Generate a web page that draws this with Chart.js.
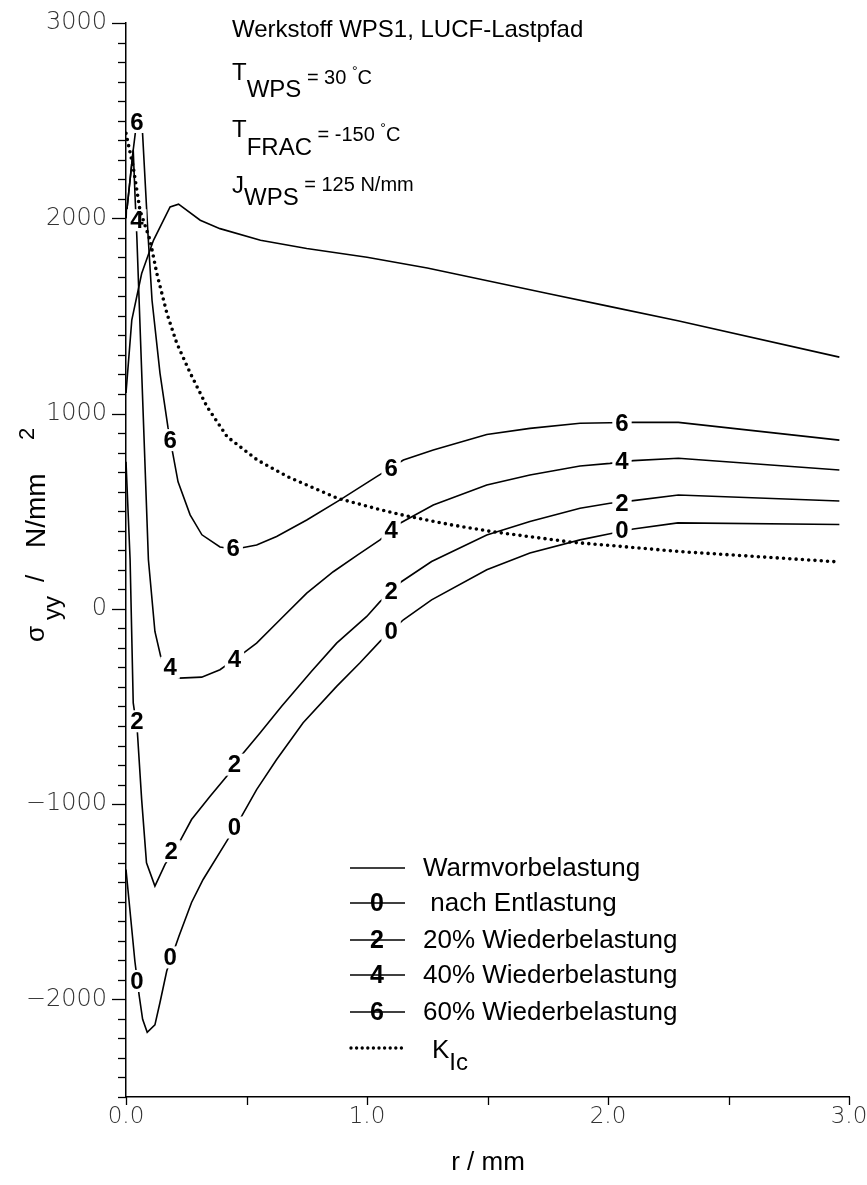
<!DOCTYPE html>
<html><head><meta charset="utf-8">
<script src="https://cdn.jsdelivr.net/npm/chart.js@4/dist/chart.umd.min.js"></script>
<style>html,body{margin:0;padding:0;background:#fff;}#wrap{width:867px;height:1185px;}</style>
</head><body><div id="wrap"><canvas id="c" width="867" height="1185"></canvas></div>
<script>
// ---- data (r in mm, sigma_yy in N/mm^2) ----
const warmR = [0, 0.024, 0.065, 0.114, 0.183, 0.218, 0.308, 0.39, 0.558, 0.75, 1.0, 1.25, 1.5, 1.75, 2.0, 2.29, 2.96];
const warmS = [1105, 1478, 1717, 1887, 2058, 2072, 1990, 1947, 1887, 1845, 1800, 1745, 1680, 1615, 1550, 1475, 1289];

const ent0R = [0, 0.037, 0.055, 0.069, 0.088, 0.12, 0.141, 0.169, 0.22, 0.272, 0.32, 0.418, 0.48, 0.542, 0.625, 0.735, 0.874, 0.971, 1.054, 1.151, 1.268, 1.497, 1.676, 1.884, 2.008, 2.105, 2.29, 2.96];
const ent0S = [-1335, -1806, -1983, -2102, -2169, -2131, -2016, -1855, -1676, -1504, -1386, -1190, -1062, -926, -772, -583, -397, -276, -167, -56, 46, 200, 286, 353, 384, 409, 440, 432];

const wb20R = [0, 0.017, 0.03, 0.047, 0.065, 0.085, 0.12, 0.162, 0.224, 0.272, 0.349, 0.418, 0.48, 0.556, 0.645, 0.77, 0.874, 0.999, 1.054, 1.144, 1.268, 1.497, 1.676, 1.884, 2.008, 2.105, 2.292, 2.96];
const wb20S = [753, 251, -482, -627, -977, -1301, -1420, -1309, -1190, -1079, -960, -858, -748, -636, -500, -320, -176, -39, 37, 140, 242, 378, 447, 515, 541, 554, 583, 552];

const wb40R = [0, 0.03, 0.038, 0.045, 0.093, 0.12, 0.144, 0.17, 0.221, 0.314, 0.39, 0.487, 0.542, 0.639, 0.75, 0.86, 0.96, 1.054, 1.137, 1.275, 1.497, 1.676, 1.884, 2.008, 2.105, 2.292, 2.96];
const wb40S = [2000, 2350, 2100, 1904, 251, -116, -244, -320, -355, -350, -312, -227, -176, -56, 80, 190, 275, 353, 438, 532, 634, 685, 731, 745, 759, 771, 711];

const wb60R = [0, 0.03, 0.045, 0.065, 0.091, 0.108, 0.141, 0.174, 0.216, 0.266, 0.315, 0.39, 0.45, 0.542, 0.625, 0.75, 0.888, 1.04, 1.151, 1.275, 1.497, 1.676, 1.884, 2.008, 2.105, 2.292, 2.96];
const wb60S = [2000, 2350, 2500, 2520, 1923, 1580, 1207, 930, 650, 481, 379, 317, 305, 327, 370, 455, 558, 677, 762, 813, 893, 924, 950, 953, 955, 955, 864];

const kicR = [0, 0.03, 0.058, 0.1, 0.128, 0.17, 0.211, 0.267, 0.336, 0.42, 0.545, 0.67, 0.878, 1.06, 1.17, 1.35, 1.52, 1.85, 2.06, 2.3, 2.96];
const kicS = [2435, 2262, 2041, 1887, 1717, 1512, 1359, 1206, 1035, 881, 762, 677, 566, 506, 474, 430, 395, 341, 319, 293, 240];

// contour-style curve labels (data coordinates)
const lab0R = [0.045, 0.183, 0.45, 1.1, 2.058];  const lab0S = [-1906, -1785, -1120, -116, 404];
const lab2R = [0.045, 0.187, 0.45, 1.1, 2.058];  const lab2S = [-576, -1241, -798, 88, 542];
const lab4R = [0.045, 0.183, 0.45, 1.1, 2.058];  const lab4S = [1990, -302, -261, 404, 753];
const lab6R = [0.045, 0.183, 0.445, 1.1, 2.058]; const lab6S = [2493, 864, 310, 720, 951];

const yTickValues = [-2000, -1000, 0, 1000, 2000, 3000];
const xTickValues = [0, 1, 2, 3];
const legendNames = ['Warmvorbelastung', ' nach Entlastung', '20% Wiederbelastung', '40% Wiederbelastung', '60% Wiederbelastung'];
const legendMarks = ['', '0', '2', '4', '6'];

const pts = (xs, ys) => xs.map((x, i) => ({x: x, y: ys[i]}));
const solid = (label, xs, ys) => ({label, data: pts(xs, ys), showLine: true, borderColor: '#000', borderWidth: 1.6, pointRadius: 0, tension: 0, fill: false});

const SANS = "'Liberation Sans', Arial, sans-serif";

function drawRich(ctx, x, segs) {
  // segs: [text, baseline y, size, bold]
  let cx = x;
  for (const s of segs) {
    ctx.font = (s[3] ? 'bold ' : '') + s[2] + 'px ' + SANS;
    ctx.fillText(s[0], cx, s[1]);
    cx += ctx.measureText(s[0]).width;
  }
}

const decor = {
  id: 'decor',
  beforeDatasetDraw(chart, args) {
    if (args.index !== 0) return;
    const ctx = chart.ctx, xs = chart.scales.x, ys = chart.scales.y;
    ctx.save();
    ctx.font = 'bold 24px ' + SANS;
    ctx.textAlign = 'center'; ctx.textBaseline = 'middle';
    const sets = [[lab0R, lab0S, '0'], [lab2R, lab2S, '2'], [lab4R, lab4S, '4'], [lab6R, lab6S, '6']];
    for (const [rs, ss, t] of sets) {
      rs.forEach((r, i) => {
        const px = xs.getPixelForValue(r), py = ys.getPixelForValue(ss[i]);
        const w = ctx.measureText(t).width;
        ctx.fillStyle = '#fff';
        ctx.fillRect(px - w / 2 - 3, py - 11, w + 6, 22);
        ctx.fillStyle = '#000';
        ctx.fillText(t, px, py + 1);
      });
    }
    ctx.restore();
  },
  afterDraw(chart) {
    const ctx = chart.ctx, xs = chart.scales.x, ys = chart.scales.y;
    const a = chart.chartArea;
    ctx.save();
    // tick marks
    ctx.strokeStyle = '#000'; ctx.lineWidth = 1.3;
    for (let v = -2500; v <= 3000; v += 100) {
      const py = Math.round(ys.getPixelForValue(v)) + 0.5;
      const len = (v % 1000 === 0) ? 14 : 8;
      ctx.beginPath(); ctx.moveTo(a.left - len, py); ctx.lineTo(a.left, py); ctx.stroke();
    }
    for (let v = 0; v <= 3.0001; v += 0.5) {
      const px = Math.round(xs.getPixelForValue(v)) + 0.5;
      ctx.beginPath(); ctx.moveTo(px, a.bottom); ctx.lineTo(px, a.bottom + 8); ctx.stroke();
    }
    // annotation block
    ctx.fillStyle = '#000'; ctx.textAlign = 'left'; ctx.textBaseline = 'alphabetic';
    drawRich(ctx, 232, [['Werkstoff WPS1, LUCF-Lastpfad', 37, 24]]);
    drawRich(ctx, 232, [['T', 80, 24], ['WPS', 97, 24], [' = 30 ', 84, 20], ['\u00B0', 76, 14], ['C', 84, 20]]);
    drawRich(ctx, 232, [['T', 137, 24], ['FRAC', 155, 24], [' = -150 ', 141, 20], ['\u00B0', 133, 14], ['C', 141, 20]]);
    drawRich(ctx, 232, [['J', 193, 24], ['WPS', 205, 24], [' = 125 N/mm', 191, 20]]);
    // legend
    const rows = [868, 903, 940, 975, 1012];
    rows.forEach((y, i) => {
      ctx.strokeStyle = '#000'; ctx.lineWidth = 1.6; ctx.setLineDash([]);
      ctx.beginPath(); ctx.moveTo(350, y); ctx.lineTo(405, y); ctx.stroke();
      if (legendMarks[i]) {
        ctx.font = 'bold 25px ' + SANS; ctx.textAlign = 'center'; ctx.textBaseline = 'middle';
        ctx.fillText(legendMarks[i], 377, y + 1);
      }
      ctx.textAlign = 'left'; ctx.textBaseline = 'alphabetic';
      drawRich(ctx, 423, [[legendNames[i], y + 8, 26]]);
    });
    ctx.lineWidth = 3.4; ctx.lineCap = 'round'; ctx.setLineDash([0, 5.6]);
    ctx.beginPath(); ctx.moveTo(351, 1048); ctx.lineTo(404, 1048); ctx.stroke();
    ctx.setLineDash([]); ctx.lineCap = 'butt';
    drawRich(ctx, 432, [['K', 1058, 26], ['Ic', 1070, 24]]);
    // x axis title
    ctx.font = '26px ' + SANS; ctx.textAlign = 'center';
    ctx.fillText('r / mm', 488, 1170);
    // y axis title (rotated): text runs upward from canvas y=642
    ctx.translate(44, 642); ctx.rotate(-Math.PI / 2);
    ctx.textAlign = 'left';
    const yt = [['\u03C3', 0, 0, 26], ['yy', 22, 16, 24], ['/', 60, 0, 26], ['N/mm', 94, 1, 28], ['2', 202, -10, 22]];
    for (const [t, off, sh, sz] of yt) { ctx.font = sz + 'px ' + SANS; ctx.fillText(t, off, sh); }
    ctx.restore();
  }
};

new Chart(document.getElementById('c'), {
  type: 'scatter',
  data: {
    datasets: [
      {label: 'K_Ic', data: pts(kicR, kicS), showLine: true, borderColor: '#000', borderWidth: 3.6,
       borderDash: [0, 6.3], borderCapStyle: 'round', pointRadius: 0, tension: 0, fill: false},
      solid('Warmvorbelastung', warmR, warmS),
      solid('nach Entlastung', ent0R, ent0S),
      solid('20% Wiederbelastung', wb20R, wb20S),
      solid('40% Wiederbelastung', wb40R, wb40S),
      solid('60% Wiederbelastung', wb60R, wb60S)
    ]
  },
  options: {
    responsive: false, animation: false, devicePixelRatio: 1,
    layout: {padding: {left: 0, right: 18, top: 23, bottom: 0}},
    plugins: {legend: {display: false}, tooltip: {enabled: false}, title: {display: false}},
    scales: {
      x: {
        type: 'linear', min: 0, max: 3, position: 'bottom',
        afterFit(s) { s.height = 88; s.paddingLeft = 0; s.paddingRight = 0; },
        afterBuildTicks(s) { s.ticks = xTickValues.map(v => ({value: v})); },
        grid: {display: false, drawTicks: false},
        border: {display: true, color: '#000', width: 1.5},
        ticks: {callback: v => Number(v).toFixed(1), autoSkip: false, maxRotation: 0, padding: 6,
                color: '#333', font: {family: "'DejaVu Sans'", size: 23, weight: '200'}}
      },
      y: {
        type: 'linear', min: -2500, max: 3000,
        afterFit(s) { s.width = 126; s.paddingTop = 0; s.paddingBottom = 0; },
        afterBuildTicks(s) { s.ticks = yTickValues.map(v => ({value: v})); },
        grid: {display: false, drawTicks: false},
        border: {display: true, color: '#000', width: 1.5},
        ticks: {callback: v => v < 0 ? '\u2212' + Math.abs(v) : String(v), autoSkip: false, padding: 19,
                color: '#333', font: {family: "'DejaVu Sans'", size: 24, weight: '200'}}
      }
    }
  },
  plugins: [decor]
});
</script></body></html>
